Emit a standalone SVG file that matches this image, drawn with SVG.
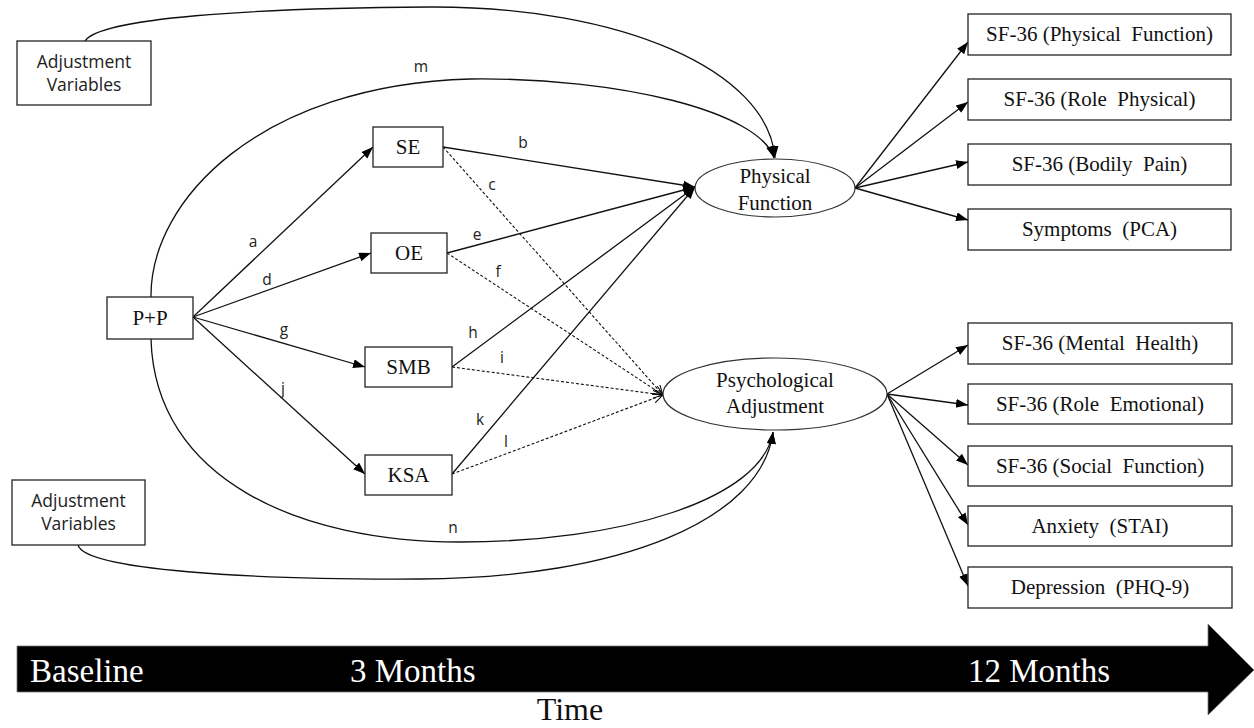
<svg xmlns="http://www.w3.org/2000/svg" width="1254" height="728" viewBox="0 0 1254 728">
  <defs>
    <marker id="arr" markerUnits="userSpaceOnUse" markerWidth="13" markerHeight="10" refX="12" refY="4.5" orient="auto">
      <path d="M0,0 L12,4.5 L0,9 z" fill="#000"/>
    </marker>
    <marker id="open" markerUnits="userSpaceOnUse" markerWidth="12" markerHeight="10" refX="10" refY="4.5" orient="auto">
      <path d="M0,0 L10,4.5 L0,9" fill="none" stroke="#000" stroke-width="1"/>
    </marker>
    <style>
      .box { fill: #fff; stroke: #222; stroke-width: 1.3; }
      .ell { fill: #fff; stroke: #333; stroke-width: 1.2; }
      .serif { font-family: "Liberation Serif", "Times New Roman", serif; font-size: 21px; fill: #111; text-anchor: middle; white-space: pre; }
      .sans { font-family: "Open Sans", "Noto Sans", sans-serif; font-size: 17.5px; fill: #222; text-anchor: middle; }
      .lbl { font-family: "Open Sans", "Noto Sans", sans-serif; font-size: 15.5px; fill: #222; text-anchor: middle; }
      .line { fill: none; stroke: #111; stroke-width: 1.3; marker-end: url(#arr); }
      .dash { fill: none; stroke: #111; stroke-width: 1.1; stroke-dasharray: 3 2; marker-end: url(#open); }
      .time { font-family: "Liberation Serif", "Times New Roman", serif; font-size: 33px; fill: #fff; }
      .axis-title { font-family: "Liberation Serif", "Times New Roman", serif; font-size: 32px; fill: #111; text-anchor: middle; }
    </style>
  </defs>

  <!-- connectors -->
  <g id="connectors">
    <!-- adjustment variables to the outcomes -->
    <path class="line" d="M85,41 C100,18 250,8 430,7 C620,6 768,70 775,158"/>
    <path class="line" d="M78,545 C85,570 250,580 420,579 C620,578 762,520 773,432"/>
    <!-- direct paths m and n -->
    <path class="line" d="M151,297 C150,200 260,85 470,79 C620,77 760,112 774,158"/>
    <path class="line" d="M151,339 C155,480 300,542 460,542 C620,542 762,500 773,432"/>
    <!-- P+P to mediators -->
    <path class="line" d="M193,317 L373,147"/>
    <path class="line" d="M193,317 L371,253"/>
    <path class="line" d="M193,317 L365,367"/>
    <path class="line" d="M193,317 L365,474"/>
    <!-- mediators to Physical Function -->
    <path class="line" d="M443,147 L695,187"/>
    <path class="line" d="M447,253 L695,187"/>
    <path class="line" d="M452,367 L695,187"/>
    <path class="line" d="M452,474 L695,187"/>
    <!-- mediators to Psychological Adjustment -->
    <path class="dash" d="M443,147 L663,395"/>
    <path class="dash" d="M447,253 L663,395"/>
    <path class="dash" d="M452,367 L663,395"/>
    <path class="dash" d="M452,474 L663,395"/>
    <!-- indicators of Physical Function -->
    <path class="line" d="M855,188 L968,42"/>
    <path class="line" d="M855,188 L968,102"/>
    <path class="line" d="M855,188 L968,162"/>
    <path class="line" d="M855,188 L968,220"/>
    <!-- indicators of Psychological Adjustment -->
    <path class="line" d="M887,394 L968,345"/>
    <path class="line" d="M887,394 L968,405"/>
    <path class="line" d="M887,394 L968,465"/>
    <path class="line" d="M887,394 L968,525"/>
    <path class="line" d="M887,394 L968,586"/>

    <!-- path labels -->
    <text class="lbl" x="421" y="72">m</text>
    <text class="lbl" x="253" y="247">a</text>
    <text class="lbl" x="267" y="285">d</text>
    <text class="lbl" x="284" y="335">g</text>
    <text class="lbl" x="283" y="394">j</text>
    <text class="lbl" x="523" y="148">b</text>
    <text class="lbl" x="492" y="190">c</text>
    <text class="lbl" x="477" y="240">e</text>
    <text class="lbl" x="498" y="277">f</text>
    <text class="lbl" x="473" y="338">h</text>
    <text class="lbl" x="502" y="363">i</text>
    <text class="lbl" x="480" y="425">k</text>
    <text class="lbl" x="506" y="447">l</text>
    <text class="lbl" x="453" y="533">n</text>
  </g>

  <!-- covariate boxes -->
  <g id="adj-top">
    <rect class="box" x="17" y="41" width="134" height="64"/>
    <text class="sans" x="84" y="68">Adjustment</text>
    <text class="sans" x="84" y="91">Variables</text>
  </g>
  <g id="adj-bottom">
    <rect class="box" x="12" y="480" width="133" height="65"/>
    <text class="sans" x="78.5" y="507">Adjustment</text>
    <text class="sans" x="78.5" y="530">Variables</text>
  </g>

  <!-- intervention -->
  <g id="pp">
    <rect class="box" x="107" y="297" width="86" height="42"/>
    <text class="serif" x="150" y="325">P+P</text>
  </g>

  <!-- mediators -->
  <g id="se">
    <rect class="box" x="373" y="127" width="70" height="40"/>
    <text class="serif" x="408" y="154">SE</text>
  </g>
  <g id="oe">
    <rect class="box" x="371" y="233" width="76" height="40"/>
    <text class="serif" x="409" y="260">OE</text>
  </g>
  <g id="smb">
    <rect class="box" x="365" y="347" width="87" height="40"/>
    <text class="serif" x="408.5" y="374">SMB</text>
  </g>
  <g id="ksa">
    <rect class="box" x="365" y="455" width="87" height="40"/>
    <text class="serif" x="408.5" y="482">KSA</text>
  </g>

  <!-- latent outcomes -->
  <g id="physical-function">
    <ellipse class="ell" cx="775" cy="188" rx="80" ry="29"/>
    <text class="serif" x="775" y="183">Physical</text>
    <text class="serif" x="775" y="210">Function</text>
  </g>
  <g id="psychological-adjustment">
    <ellipse class="ell" cx="775" cy="394" rx="112" ry="36"/>
    <text class="serif" x="775" y="387">Psychological</text>
    <text class="serif" x="775" y="413">Adjustment</text>
  </g>

  <!-- indicators -->
  <g id="sf36-pf">
    <rect class="box" x="968" y="14" width="263" height="41"/>
    <text class="serif" x="1099.5" y="41" xml:space="preserve">SF-36 (Physical  Function)</text>
  </g>
  <g id="sf36-rp">
    <rect class="box" x="968" y="79" width="263" height="41"/>
    <text class="serif" x="1099.5" y="106" xml:space="preserve">SF-36 (Role  Physical)</text>
  </g>
  <g id="sf36-bp">
    <rect class="box" x="968" y="144" width="263" height="41"/>
    <text class="serif" x="1099.5" y="171" xml:space="preserve">SF-36 (Bodily  Pain)</text>
  </g>
  <g id="symptoms">
    <rect class="box" x="968" y="209" width="263" height="41"/>
    <text class="serif" x="1099.5" y="236" xml:space="preserve">Symptoms  (PCA)</text>
  </g>
  <g id="sf36-mh">
    <rect class="box" x="968" y="323" width="264" height="41"/>
    <text class="serif" x="1100" y="350" xml:space="preserve">SF-36 (Mental  Health)</text>
  </g>
  <g id="sf36-re">
    <rect class="box" x="968" y="384" width="264" height="40"/>
    <text class="serif" x="1100" y="411" xml:space="preserve">SF-36 (Role  Emotional)</text>
  </g>
  <g id="sf36-sf">
    <rect class="box" x="968" y="446" width="264" height="40"/>
    <text class="serif" x="1100" y="473" xml:space="preserve">SF-36 (Social  Function)</text>
  </g>
  <g id="anxiety">
    <rect class="box" x="968" y="506" width="264" height="40"/>
    <text class="serif" x="1100" y="533" xml:space="preserve">Anxiety  (STAI)</text>
  </g>
  <g id="depression">
    <rect class="box" x="968" y="567" width="264" height="41"/>
    <text class="serif" x="1100" y="594" xml:space="preserve">Depression  (PHQ-9)</text>
  </g>

  <!-- time axis -->
  <g id="timeline">
    <polygon points="17,646 1208,646 1208,624 1254,670 1208,715 1208,692 17,692" fill="#000" stroke="#777" stroke-width="0.8"/>
    <text class="time" x="30" y="682">Baseline</text>
    <text class="time" x="350" y="682">3 Months</text>
    <text class="time" x="968" y="682">12 Months</text>
    <text class="axis-title" x="570" y="720">Time</text>
  </g>
</svg>
